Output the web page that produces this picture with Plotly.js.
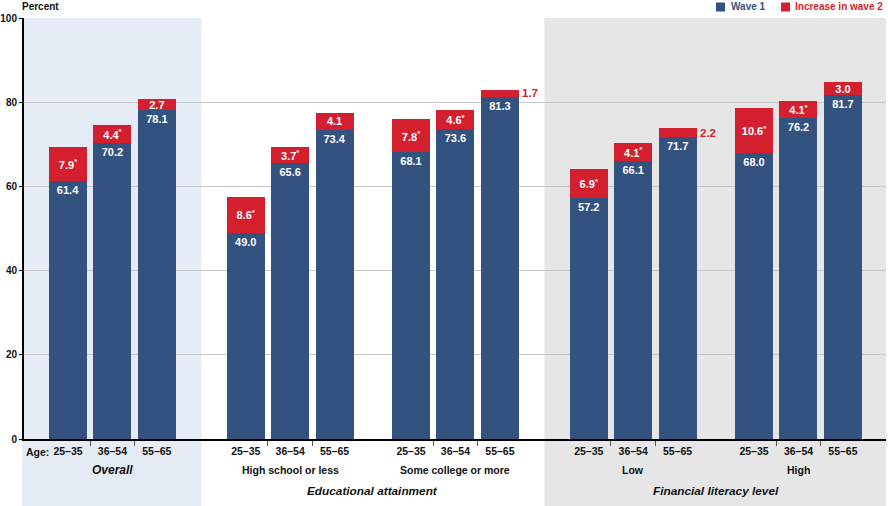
<!DOCTYPE html>
<html>
<head>
<meta charset="utf-8">
<script src="https://cdn.plot.ly/plotly-3.0.1.min.js"></script>
<style>html,body{margin:0;padding:0;background:#fff}#chart{width:888px;height:506px}</style>
</head>
<body>
<div id="chart"></div>
<script>
// ---- data ----
const sections = ['Overall', 'Educational attainment', 'Financial literacy level'];
const groups = ['Overall', 'High school or less', 'Some college or more', 'Low', 'High'];
const groupSection = [0, 1, 1, 2, 2];
const ages = ['25–35', '36–54', '55–65'];
const wave1 = [61.4, 70.2, 78.1, 49.0, 65.6, 73.4, 68.1, 73.6, 81.3, 57.2, 66.1, 71.7, 68.0, 76.2, 81.7];
const increase = [7.9, 4.4, 2.7, 8.6, 3.7, 4.1, 7.8, 4.6, 1.7, 6.9, 4.1, 2.2, 10.6, 4.1, 3.0];
const significant = [true, true, false, true, true, false, true, true, false, true, true, false, true, true, false];
const yTicks = [0, 20, 40, 60, 80, 100];

// ---- layout helpers ----
const BLUE = '#34527f', RED = '#d31f2e';
const FONT = 'Liberation Sans, Arial, sans-serif';
const xs = [];
const groupCenters = [];
let cursor = null;
groups.forEach((g, gi) => {
  let start;
  if (cursor === null) start = 0;
  else start = cursor + (groupSection[gi] !== groupSection[gi - 1] ? 2.0 : 1.72);
  ages.forEach((a, ai) => xs.push(start + ai));
  groupCenters.push(start + 1);
  cursor = start + ages.length - 1;
});
const L = 24, R = 2, W = 888 - L - R;
const xRange = [-0.99, 18.41];
const toPaperX = v => (v - xRange[0]) / (xRange[1] - xRange[0]);

const tickText = groups.flatMap(() => ages);
const minorVals = [];
groups.forEach((g, gi) => { for (let i = 0; i < ages.length - 1; i++) minorVals.push(xs[gi * 3 + i] + 0.5); });

const SMALL = 2.5;
const incText = increase.map((v, i) => v < SMALL ? '' : v.toFixed(1) + (significant[i] ? '<sup>*</sup>' : ''));

const traces = [
  {
    type: 'bar', x: xs, y: wave1, name: 'Wave 1', width: 0.855,
    marker: { color: BLUE, line: { width: 0 } },
    text: wave1.map(v => v.toFixed(1)), textposition: 'inside', insidetextanchor: 'end',
    textangle: 0, constraintext: 'none',
    textfont: { color: '#fff', size: 11, family: FONT, weight: 'bold' },
    hoverinfo: 'skip'
  },
  {
    type: 'bar', x: xs, y: increase, name: 'Increase in wave 2', width: 0.855,
    marker: { color: RED, line: { width: 0 } },
    text: incText, textposition: 'inside', insidetextanchor: 'middle',
    textangle: 0, constraintext: 'none',
    textfont: { color: '#fff', size: 11, family: FONT, weight: 'bold' },
    hoverinfo: 'skip'
  }
];

const pxX = px => (px - L) / W, pxY = py => (439 - py) / 421;
const annotations = [];
// small increase labels outside to the right
increase.forEach((v, i) => {
  if (v < SMALL) {
    annotations.push({
      x: xs[i] + 0.43, y: wave1[i] + v / 2, xref: 'x', yref: 'y',
      text: '<b>' + v.toFixed(1) + '</b>', showarrow: false, xanchor: 'left', yanchor: 'middle',
      xshift: 1, font: { color: RED, size: 11.5, family: FONT }
    });
  }
});
// group labels
const row1 = pxY(470), row2 = pxY(491);
groups.forEach((g, gi) => {
  const isSectionOnly = sections[groupSection[gi]] === g;
  annotations.push({
    x: groupCenters[gi], y: row1, xref: 'x', yref: 'paper', showarrow: false,
    text: isSectionOnly ? '<b><i>' + g + '</i></b>' : '<b>' + g + '</b>',
    font: { size: isSectionOnly ? 12 : 10.5, color: '#111', family: FONT }, yanchor: 'middle'
  });
});
sections.forEach((s, si) => {
  const idx = groupSection.map((v, i) => v === si ? i : -1).filter(i => i >= 0);
  if (idx.length < 2) return;
  const c = (groupCenters[idx[0]] + groupCenters[idx[idx.length - 1]]) / 2;
  annotations.push({
    x: c, y: row2, xref: 'x', yref: 'paper', showarrow: false,
    text: '<b><i>' + s + '</i></b>', font: { size: 11.8, color: '#111', family: FONT }, yanchor: 'middle'
  });
});
// Age: label
annotations.push({ x: pxX(24), y: pxY(452), xref: 'paper', yref: 'paper', showarrow: false,
  text: '<b>Age:</b>', xanchor: 'left', yanchor: 'middle', font: { size: 10.5, color: '#111', family: FONT } });
// Percent label
annotations.push({ x: pxX(20), y: pxY(7), xref: 'paper', yref: 'paper', showarrow: false,
  text: '<b>Percent</b>', xanchor: 'left', yanchor: 'middle', font: { size: 10, color: '#111', family: FONT } });
// custom legend
annotations.push({ x: pxX(729), y: pxY(7), xref: 'paper', yref: 'paper', showarrow: false,
  text: '<b>Wave 1</b>', xanchor: 'left', yanchor: 'middle', font: { size: 10, color: BLUE, family: FONT } });
annotations.push({ x: pxX(793), y: pxY(7), xref: 'paper', yref: 'paper', showarrow: false,
  text: '<b>Increase in wave 2</b>', xanchor: 'left', yanchor: 'middle', font: { size: 10, color: RED, family: FONT } });

const shapes = [
  { type: 'rect', xref: 'paper', yref: 'paper', x0: pxX(22), x1: toPaperX((xs[2] + xs[3]) / 2),
    y0: pxY(506), y1: 1, fillcolor: '#e6ecf6', line: { width: 0 }, layer: 'below' },
  { type: 'rect', xref: 'paper', yref: 'paper', x0: toPaperX((xs[8] + xs[9]) / 2), x1: 1,
    y0: pxY(506), y1: 1, fillcolor: '#e6e6e6', line: { width: 0 }, layer: 'below' },
  { type: 'rect', xref: 'paper', yref: 'paper', x0: pxX(716), x1: pxX(725), y0: pxY(11.5), y1: pxY(2.5),
    fillcolor: BLUE, line: { width: 0 } },
  { type: 'rect', xref: 'paper', yref: 'paper', x0: pxX(781), x1: pxX(790), y0: pxY(11.5), y1: pxY(2.5),
    fillcolor: RED, line: { width: 0 } }
];

const layout = {
  width: 888, height: 506,
  margin: { l: L, r: R, t: 18, b: 67, autoexpand: false },
  paper_bgcolor: '#ffffff', plot_bgcolor: 'rgba(0,0,0,0)',
  barmode: 'stack', showlegend: false,
  font: { family: FONT, color: '#111' },
  xaxis: {
    range: xRange, tickmode: 'array', tickvals: xs, ticktext: tickText,
    ticks: '', showgrid: false, zeroline: false,
    showline: true, linecolor: '#000', linewidth: 1.5,
    tickfont: { size: 10.5, family: FONT, color: '#111', weight: 'bold' },
    ticklabelstandoff: 2,
    minor: { tickmode: 'array', tickvals: minorVals, ticks: 'outside', ticklen: 5, tickcolor: '#555', tickwidth: 1, showgrid: false }
  },
  yaxis: {
    range: [0, 100], tickmode: 'array', tickvals: yTicks, ticktext: yTicks.map(String),
    ticks: 'outside', ticklen: 3, tickcolor: '#000', tickwidth: 1,
    showline: true, linecolor: '#000', linewidth: 2,
    gridcolor: '#c8c8c8', gridwidth: 1, zeroline: false,
    ticklabelstandoff: 0,
    tickfont: { size: 10, family: FONT, color: '#111', weight: 'bold' }
  },
  annotations: annotations,
  shapes: shapes
};

Plotly.newPlot('chart', traces, layout, { staticPlot: true, displayModeBar: false });
</script>
</body>
</html>
